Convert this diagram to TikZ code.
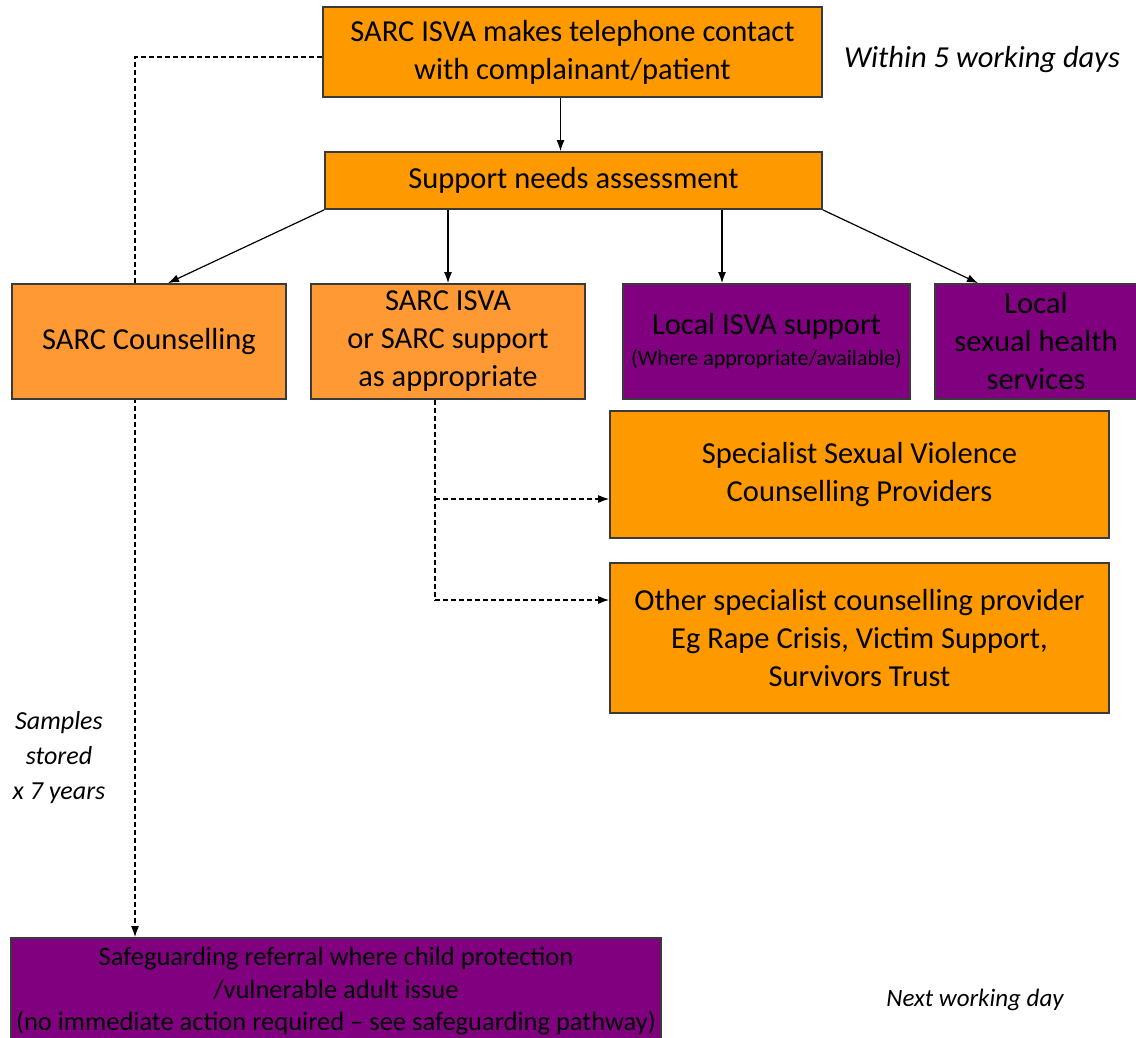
\documentclass[tikz,border=0pt]{standalone}
\usepackage{fontspec}
\setmainfont{Carlito}
\usetikzlibrary{arrows.meta,backgrounds}
\definecolor{orA}{HTML}{FF9900}
\definecolor{orB}{HTML}{FF9933}
\definecolor{purp}{HTML}{800080}
\definecolor{edge}{HTML}{3A3A3A}
\tikzset{
  box/.style={draw=edge,line width=1.8pt,inner sep=0pt,align=center,text=black,font=\fontsize{30.5}{38}\selectfont},
  obox/.style={box,fill=orA},
  lbox/.style={box,fill=orB},
  pbox/.style={box,fill=purp},
  arr/.style={line width=1.2pt,-{Latex[length=11pt,width=8pt]}},
  darr/.style={line width=1.2pt,dash pattern=on 5pt off 3pt,-{Latex[length=11pt,width=8pt]}},
  dline/.style={line width=1.2pt,dash pattern=on 5pt off 3pt},
  note/.style={align=center,font=\itshape}
}
\begin{document}
\begin{tikzpicture}[x=1pt,y=-1pt]
\clip (0,0) rectangle (1136,1038);
% boxes
\node[obox,minimum width=499pt,minimum height=90pt] (b1) at (572.5,52) {SARC ISVA makes telephone contact\\with complainant/patient};
\node[obox,minimum width=497pt,minimum height=57pt] (b2) at (573.5,180.5) {Support needs assessment};
\node[lbox,minimum width=274pt,minimum height=115pt] (b3) at (149,341.5) {SARC Counselling};
\node[lbox,minimum width=274pt,minimum height=115pt] (b4) at (448,341.5) {SARC ISVA\\or SARC support\\as appropriate};
\node[pbox,minimum width=287pt,minimum height=115pt] (b5) at (766.5,341.5) {Local ISVA support\\[-7pt]{\fontsize{22}{26}\selectfont (Where appropriate/available)}};
\node[pbox,minimum width=202pt,minimum height=115pt] (b6) at (1036,341.5) {Local\\sexual health\\services};
\node[obox,minimum width=499pt,minimum height=127pt] (b7) at (859.5,474.5) {Specialist Sexual Violence\\Counselling Providers};
\node[obox,minimum width=499pt,minimum height=150pt] (b8) at (859.5,638) {Other specialist counselling provider\\Eg Rape Crisis, Victim Support,\\Survivors Trust};
\node[pbox,minimum width=650pt,minimum height=107pt,font=\fontsize{26.5}{32.5}\selectfont] (b9) at (336,991.5) {Safeguarding referral where child protection\\/vulnerable adult issue\\(no immediate action required -- see safeguarding pathway)};
% notes
\node[note,font=\itshape\fontsize{30.5}{34}\selectfont] (t1) at (982,60) {Within 5 working days};
\node[note,font=\itshape\fontsize{26}{35}\selectfont] (t2) at (59,758) {Samples\\stored\\x 7 years};
\node[note,font=\itshape\fontsize{25}{28}\selectfont] (t3) at (975,1000) {Next working day};
% solid arrows
\draw[arr] ([xshift=-12pt]b1.south) -- ([xshift=-12pt]b1.south |- b2.north);
\draw[arr] (b2.south west) -- ([xshift=19pt]b3.north);
\draw[arr] (b4.north |- b2.south) -- (b4.north);
\draw[arr] ([xshift=-44.5pt]b5.north |- b2.south) -- ([xshift=-44.5pt]b5.north);
\draw[arr] (b2.south east) -- ([xshift=-58pt]b6.north);
% dashed connectors
\coordinate (k1) at (435,499);
\coordinate (k2) at (435,600);
\coordinate (d1) at (135,57);
\draw[dline] (k1 |- b4.south) -- (k2);
\draw[darr] (k1) -- (k1 -| b7.west);
\draw[darr] (k2) -- (k2 -| b8.west);
\begin{pgfonlayer}{background}
\draw[darr] (d1 -| b1.west) -- (d1) -- (d1 |- b9.north);
\end{pgfonlayer}
\end{tikzpicture}
\end{document}
